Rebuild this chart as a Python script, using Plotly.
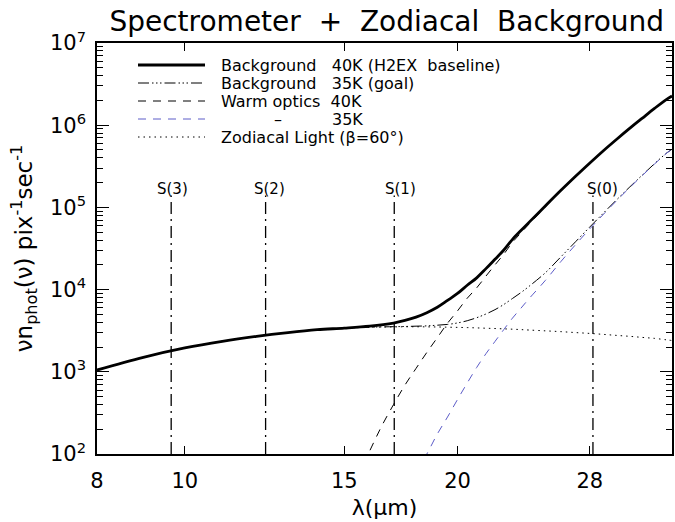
import math
import plotly.graph_objects as go

# wavelength grid (micron)
lam = [8, 9, 10, 11, 12, 13, 14, 15, 16, 17, 17.5, 18, 18.5, 19, 19.5, 20, 20.5,
       21, 21.5, 22, 22.5, 23, 23.5, 24, 25, 26, 27, 28, 29, 30, 31, 32, 33, 34, 34.5]

bg40 = [1.05e3, 1.5e3, 1.95e3, 2.35e3, 2.7e3, 3.0e3, 3.25e3, 3.4e3, 3.59e3, 3.92e3,
        4.22e3, 4.63e3, 5.24e3, 6.1e3, 7.39e3, 8.97e3, 1.13e4, 1.39e4, 1.8e4, 2.34e4,
        3.03e4, 4.09e4, 5.23e4, 6.62e4, 1.04e5, 1.6e5, 2.39e5, 3.47e5, 4.93e5, 6.8e5,
        9.2e5, 1.22e6, 1.6e6, 2.05e6, 2.26e6]

bg35 = [1.05e3, 1.5e3, 1.95e3, 2.35e3, 2.7e3, 3.0e3, 3.25e3, 3.4e3, 3.49e3, 3.54e3,
        3.56e3, 3.59e3, 3.62e3, 3.69e3, 3.77e3, 3.93e3, 4.18e3, 4.55e3, 5.05e3, 5.7e3,
        6.6e3, 7.8e3, 9.2e3, 1.1e4, 1.6e4, 2.49e4, 3.82e4, 5.79e4, 8.59e4, 1.25e5,
        1.78e5, 2.48e5, 3.4e5, 4.55e5, 5.1e5]

zodi = [1.05e3, 1.5e3, 1.95e3, 2.35e3, 2.7e3, 3.0e3, 3.25e3, 3.4e3, 3.48e3, 3.52e3,
        3.53e3, 3.53e3, 3.52e3, 3.51e3, 3.49e3, 3.47e3, 3.45e3, 3.42e3, 3.39e3, 3.36e3,
        3.33e3, 3.3e3, 3.26e3, 3.22e3, 3.15e3, 3.08e3, 3.0e3, 2.93e3, 2.85e3, 2.77e3,
        2.7e3, 2.62e3, 2.55e3, 2.45e3, 2.4e3]

lam_w40 = [15.5, 16, 16.5, 17, 17.5, 18, 18.5, 19, 19.5, 20, 20.5, 21, 21.5, 22, 22.5,
           23, 23.5, 24, 25, 26, 27, 28, 29, 30, 31, 32, 33, 34, 34.5]
warm40 = [52, 109, 220, 400, 690, 1.1e3, 1.72e3, 2.6e3, 3.9e3, 5.5e3, 7.85e3, 1.05e4,
          1.46e4, 2.0e4, 2.7e4, 3.76e4, 4.9e4, 6.3e4, 1.01e5, 1.57e5, 2.36e5, 3.44e5,
          4.9e5, 6.77e5, 9.18e5, 1.22e6, 1.6e6, 2.05e6, 2.26e6]

lam_w35 = [18, 18.5, 19, 19.5, 20, 20.5, 21, 21.5, 22, 22.5, 23, 23.5, 24, 25, 26, 27,
           28, 29, 30, 31, 32, 33, 34, 34.5]
warm35 = [60, 100, 175, 282, 460, 730, 1.13e3, 1.66e3, 2.34e3, 3.27e3, 4.5e3, 5.94e3,
          7.8e3, 1.29e4, 2.18e4, 3.52e4, 5.5e4, 8.3e4, 1.22e5, 1.75e5, 2.45e5, 3.37e5,
          4.53e5, 5.08e5]

# H2 rotational lines
h2_names = ["S(3)", "S(2)", "S(1)", "S(0)"]
h2_lam = [9.66, 12.28, 17.03, 28.22]
h2_top = 1.4e5

x_ticks = [8, 10, 15, 20, 28]
y_ticks = [1e2, 1e3, 1e4, 1e5, 1e6, 1e7]
y_ticktext = ["10<sup>%d</sup>" % k for k in range(2, 8)]

FONT = "DejaVu Sans"
NB = "\u00a0"
BLUE = "#5c5cc8"

# figure geometry (pixels)
W, H = 675, 522
ML, MR, MT, MB = 97, 3, 43, 68
PW, PH = W - ML - MR, H - MT - MB


def px_x(p):
    return (p - ML) / PW


def px_y(p):
    return (H - MB - p) / PH


series = [
    (lam, bg40, "Background" + NB * 3 + "40K (H2EX" + NB * 2 + "baseline)",
     dict(color="black", width=2.8)),
    (lam, bg35, "Background" + NB * 3 + "35K (goal)",
     dict(color="black", width=1, dash="11px,3px,1.5px,2.5px,1.5px,2.5px,1.5px,3px")),
    (lam_w40, warm40, "Warm optics" + NB * 2 + "40K",
     dict(color="black", width=1, dash="8px,7px")),
    (lam_w35, warm35, "35K",
     dict(color=BLUE, width=1, dash="8px,7px")),
    (lam, zodi, "Zodiacal Light (\u03b2=60\u00b0)",
     dict(color="black", width=1, dash="1.5px,4px")),
]

fig = go.Figure()

# H2 line markers
for nm, lx in zip(h2_names, h2_lam):
    fig.add_trace(go.Scatter(x=[lx, lx], y=[1e2, h2_top], mode="lines",
                             line=dict(color="black", width=1.3, dash="12px,5px,2px,5px"),
                             showlegend=False, hoverinfo="skip"))
    fig.add_annotation(x=math.log10(lx - 0.3), y=math.log10(h2_top), text=nm,
                       showarrow=False, xanchor="left", yanchor="bottom",
                       font=dict(family=FONT, size=15, color="black"), xshift=-4, yshift=-5)

for xs, ys, nm, ln in series:
    fig.add_trace(go.Scatter(x=xs, y=ys, mode="lines", line_shape="spline", name=nm,
                             line=ln, showlegend=False))

# hand-built legend (matching the reference layout)
LEG_X0, LEG_X1, LEG_TX = 138, 205, 219
LEG_Y0, LEG_DY = 65, 18
LEG_FS = 16
for i, (xs, ys, nm, ln) in enumerate(series):
    yy = px_y(LEG_Y0 + i * LEG_DY)
    fig.add_shape(type="line", xref="paper", yref="paper", x0=px_x(LEG_X0), x1=px_x(LEG_X1),
                  y0=yy, y1=yy, line=ln)
    if i == 3:
        fig.add_annotation(xref="paper", yref="paper", x=px_x(278), y=yy, text="\u2013",
                           showarrow=False, xanchor="center", yanchor="middle",
                           font=dict(family=FONT, size=LEG_FS, color="black"))
        fig.add_annotation(xref="paper", yref="paper", x=px_x(330), y=yy, text=nm,
                           showarrow=False, xanchor="left", yanchor="middle",
                           font=dict(family=FONT, size=LEG_FS, color="black"))
    else:
        fig.add_annotation(xref="paper", yref="paper", x=px_x(LEG_TX), y=yy, text=nm,
                           showarrow=False, xanchor="left", yanchor="middle",
                           font=dict(family=FONT, size=LEG_FS, color="black"))

minor_vals = [m * 10 ** k for k in range(2, 7) for m in range(2, 10)]

fig.update_layout(
    template="none",
    width=W, height=H,
    margin=dict(l=ML, r=MR, t=MT, b=MB),
    paper_bgcolor="white", plot_bgcolor="white",
    font=dict(family=FONT, color="black"),
    showlegend=False,
    title=dict(text="Spectrometer" + NB * 2 + "+" + NB * 2 + "Zodiacal" + NB * 2 + "Background",
               x=0.573, xanchor="center", y=0.959, yanchor="middle",
               font=dict(family=FONT, size=28, color="black")),
    xaxis=dict(type="log", range=[math.log10(8), math.log10(34.5)], automargin=False,
               tickmode="array", tickvals=x_ticks, ticktext=[str(v) for v in x_ticks],
               ticks="inside", ticklen=8, tickwidth=1.3, tickcolor="black",
               showline=True, linecolor="black", linewidth=1.5, mirror="ticks",
               showgrid=False, zeroline=False,
               tickfont=dict(family=FONT, size=21), ticklabelstandoff=7,
               title=dict(text="\u03bb(\u03bcm)", font=dict(family=FONT, size=22), standoff=8)),
    yaxis=dict(type="log", range=[2, 7], automargin=False,
               tickmode="array", tickvals=y_ticks, ticktext=y_ticktext,
               ticks="inside", ticklen=12, tickwidth=1.3, tickcolor="black",
               minor=dict(tickmode="array", tickvals=minor_vals, ticks="inside",
                          ticklen=6, tickwidth=1, tickcolor="black", showgrid=False),
               showline=True, linecolor="black", linewidth=1.5, mirror="ticks",
               showgrid=False, zeroline=False,
               tickfont=dict(family=FONT, size=21), ticklabelstandoff=5,
               title=dict(text="\u03bdn<sub>phot</sub>(\u03bd) pix<sup>-1</sup>sec<sup>-1</sup>",
                          font=dict(family=FONT, size=23), standoff=11)),
)

fig.write_html("out.html", config={"displayModeBar": False},
               post_script="document.body.style.margin='0';"
                           "document.body.style.overflow='hidden';")
